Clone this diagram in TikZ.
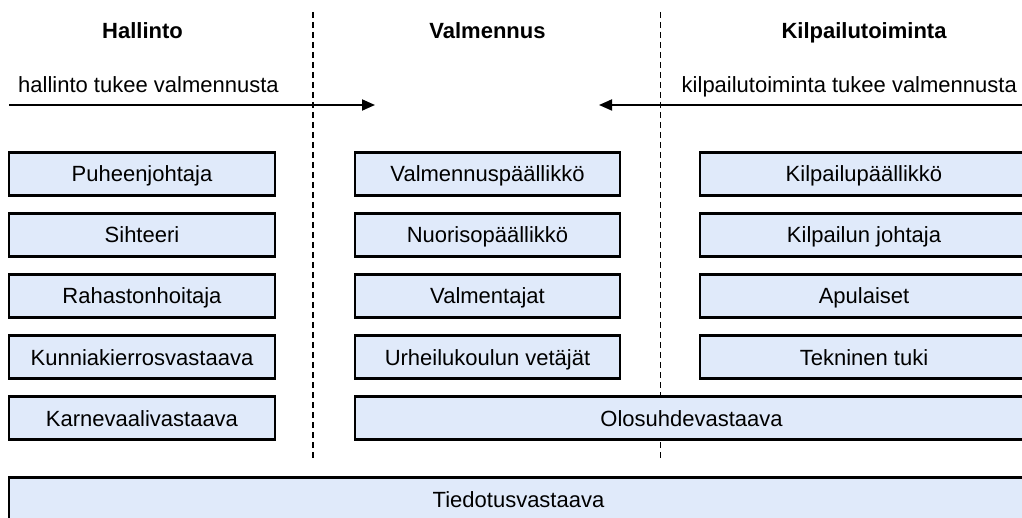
\documentclass[tikz,border=0pt]{standalone}
\usepackage{fontspec}
\setmainfont{Liberation Sans}
\usetikzlibrary{arrows.meta}
\definecolor{boxfill}{RGB}{224,234,250}
\tikzset{
  rolebox/.style={draw=black, line width=2.6pt, fill=boxfill, inner sep=0pt,
    minimum height=43pt, text height=16pt, text depth=0pt,
    font=\fontsize{22}{26}\selectfont},
  header/.style={font=\fontsize{22}{26}\selectfont\bfseries, inner sep=0pt, anchor=base},
  lbl/.style={font=\fontsize{22}{26}\selectfont, inner sep=0pt},
  flow/.style={line width=1.8pt, -{Triangle[length=13pt,width=11pt]}}
}
\begin{document}
\begin{tikzpicture}[x=1pt,y=-1pt]
\useasboundingbox (0,0) rectangle (1022,518);
\clip (0,0) rectangle (1022,518);
% separators
\coordinate (s1t) at (313,12); \coordinate (s1b) at (313,460);
\coordinate (s2t) at (660.5,12); \coordinate (s2b) at (660.5,460);
\draw[line width=2.7pt, dash pattern=on 6pt off 4pt] (s1t) -- (s1b);
\draw[line width=1.6pt, dash pattern=on 6pt off 4pt] (s2t) -- (s2b);
% headers
\node[header] (h1) at (142.5,39) {Hallinto};
\node[header] (h2) at (487.5,39) {Valmennus};
\node[header] (h3) at (864,39) {Kilpailutoiminta};
% arrows
\node[lbl, anchor=base west] (l1) at (18,92.5) {hallinto tukee valmennusta};
\node[lbl, anchor=base east] (l2) at (1017,93) {kilpailutoiminta tukee valmennusta};
\coordinate (a1s) at (9,105); \coordinate (a1e) at (375,105);
\coordinate (a2s) at (1030,105); \coordinate (a2e) at (599,105);
\draw[flow] (a1s) -- (a1e);
\draw[flow] (a2s) -- (a2e);
% left column
\node[rolebox, minimum width=266pt] (p1) at (142,174) {Puheenjohtaja};
\node[rolebox, minimum width=266pt] (p2) at (142,235) {Sihteeri};
\node[rolebox, minimum width=266pt] (p3) at (142,296) {Rahastonhoitaja};
\node[rolebox, minimum width=266pt] (p4) at (142,357) {Kunniakierrosvastaava};
\node[rolebox, minimum width=266pt] (p5) at (142,418) {Karnevaalivastaava};
% middle column
\node[rolebox, minimum width=265pt] (v1) at (487.5,174) {Valmennuspäällikkö};
\node[rolebox, minimum width=265pt] (v2) at (487.5,235) {Nuorisopäällikkö};
\node[rolebox, minimum width=265pt] (v3) at (487.5,296) {Valmentajat};
\node[rolebox, minimum width=265pt] (v4) at (487.5,357) {Urheilukoulun vetäjät};
% right column
\node[rolebox, minimum width=328pt] (k1) at (864,174) {Kilpailupäällikkö};
\node[rolebox, minimum width=328pt] (k2) at (864,235) {Kilpailun johtaja};
\node[rolebox, minimum width=328pt] (k3) at (864,296) {Apulaiset};
\node[rolebox, minimum width=328pt] (k4) at (864,357) {Tekninen tuki};
% spanning boxes
\node[rolebox, minimum width=673pt] (o1) at (691.5,418) {Olosuhdevastaava};
\node[rolebox, minimum width=1019pt] (t1) at (518.5,499) {Tiedotusvastaava};
\end{tikzpicture}
\end{document}
